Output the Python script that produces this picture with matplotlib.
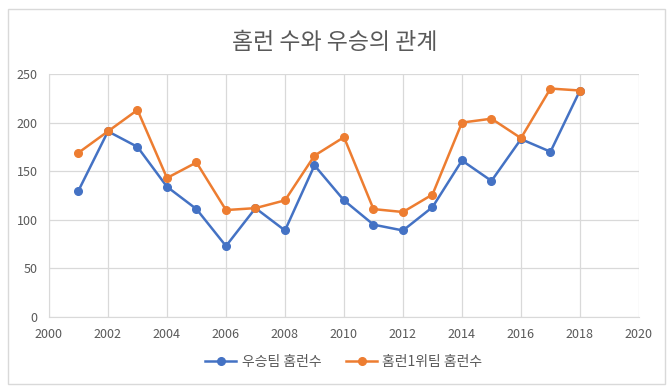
import matplotlib.pyplot as plt
from matplotlib.patches import Rectangle

plt.rcParams['font.family'] = ['Noto Sans CJK KR', 'DejaVu Sans']

years = list(range(2001, 2019))
champ_hr = [130, 191, 175, 134, 111, 73, 112, 89, 156, 120, 95, 89, 113, 161, 140, 183, 170, 233]
top_hr = [169, 191, 213, 143, 159, 110, 112, 120, 166, 185, 111, 108, 126, 200, 204, 184, 235, 233]

BLUE = "#4472C4"
ORANGE = "#ED7D31"
GRID = "#D9D9D9"
TEXT = "#595959"

fig = plt.figure(figsize=(6.7, 3.9), dpi=100)
fig.patches.append(Rectangle((0.012, 0.015), 0.98, 0.962, transform=fig.transFigure,
                             fill=False, edgecolor=GRID, linewidth=1.0))

ax = fig.add_axes([0.0731, 0.1872, 0.8806, 0.6231])
ax.plot(years, champ_hr, color=BLUE, linewidth=1.8, marker="o", markersize=5.5,
        label="우승팀 홈런수", zorder=3)
ax.plot(years, top_hr, color=ORANGE, linewidth=1.8, marker="o", markersize=5.5,
        label="홈런1위팀 홈런수", zorder=3)

ax.set_xlim(2000, 2020)
ax.set_ylim(0, 250)
ax.set_xticks(range(2000, 2021, 2))
ax.set_yticks(range(0, 251, 50))
ax.grid(True, color=GRID, linewidth=0.9)
ax.set_axisbelow(True)
for s in ["top", "right"]:
    ax.spines[s].set_visible(False)
ax.spines["left"].set_color(GRID)
ax.spines["bottom"].set_color(GRID)
ax.tick_params(length=0, colors=TEXT, labelsize=9, pad=8)

fig.text(0.5, 0.89, "홈런 수와 우승의 관계", ha="center", va="center",
         fontsize=16.5, color=TEXT)
ax.legend(loc="upper center", bbox_to_anchor=(0.5, -0.105), ncol=2, frameon=False,
          fontsize=10, labelcolor=TEXT, handlelength=2.2, handletextpad=0.4,
          columnspacing=1.8)

fig.savefig("out.png", dpi=100)
